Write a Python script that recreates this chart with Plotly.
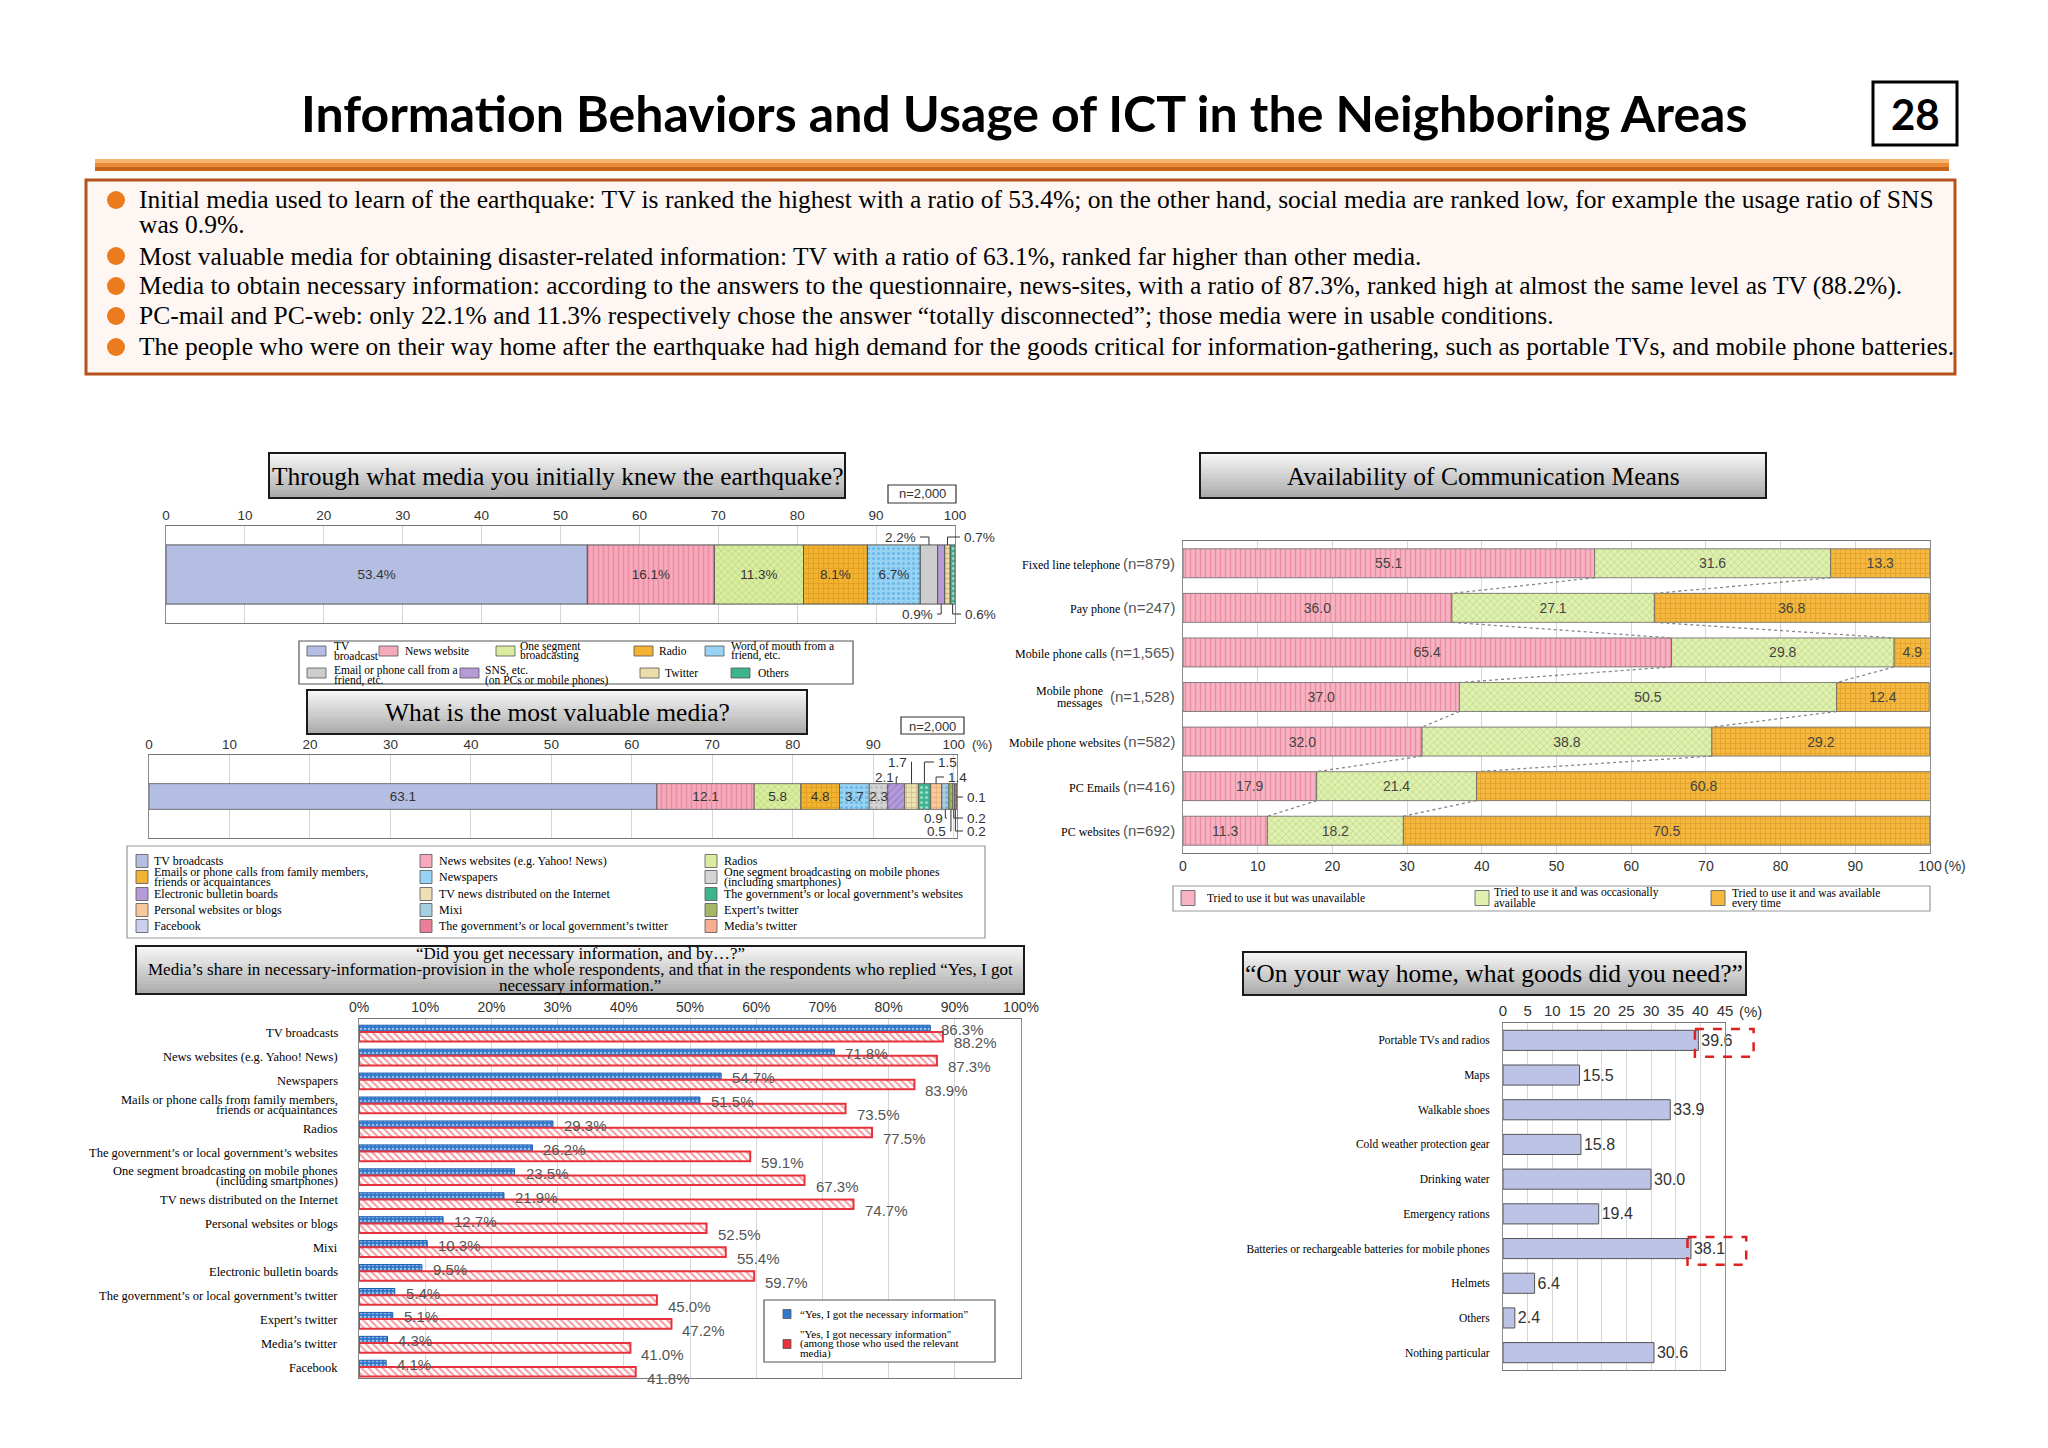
import numpy as np
import plotly.graph_objects as go

W, H = 2048, 1448
SERIF = "Liberation Serif"
SANS = "Liberation Sans"
HEAD = "Lato"

# ---------------- data ----------------
bullets = [
    "Initial media used to learn of the earthquake: TV is ranked the highest with a ratio of 53.4%; on the other hand, social media are ranked low, for example the usage ratio of SNS",
    "was 0.9%.",
    "Most valuable media for obtaining disaster-related information: TV with a ratio of 63.1%, ranked far higher than other media.",
    "Media to obtain necessary information: according to the answers to the questionnaire, news-sites, with a ratio of 87.3%, ranked high at almost the same level as TV (88.2%).",
    "PC-mail and PC-web: only 22.1% and 11.3% respectively chose the answer “totally disconnected”; those media were in usable conditions.",
    "The people who were on their way home after the earthquake had high demand for the goods critical for information-gathering, such as portable TVs, and mobile phone batteries.",
]

# Chart 1: initial media
c1_categories = ["TV\nbroadcast", "News website", "One segment\nbroadcasting", "Radio",
                 "Word of mouth from a\nfriend, etc.", "Email or phone call from a\nfriend, etc.",
                 "SNS, etc.\n(on PCs or mobile phones)", "Twitter", "Others"]
c1_values = [53.4, 16.1, 11.3, 8.1, 6.7, 2.2, 0.9, 0.7, 0.6]

# Chart 2: most valuable media
c2_categories = ["TV broadcasts", "News websites (e.g. Yahoo! News)", "Radios",
                 "Emails or phone calls from family members,\nfriends or acquaintances", "Newspapers",
                 "One segment broadcasting on mobile phones\n(including smartphones)",
                 "Electronic bulletin boards", "TV news distributed on the Internet",
                 "The government’s or local government’s websites", "Personal websites or blogs",
                 "Mixi", "Expert’s twitter", "Facebook",
                 "The government’s or local government’s twitter", "Media’s twitter"]
c2_values = [63.1, 12.1, 5.8, 4.8, 3.7, 2.3, 2.1, 1.7, 1.5, 1.4, 0.9, 0.5, 0.2, 0.2, 0.1]

# Chart 3: necessary information
c3_categories = ["TV broadcasts", "News websites (e.g. Yahoo! News)", "Newspapers",
                 "Mails or phone calls from family members,\nfriends or acquaintances", "Radios",
                 "The government’s or local government’s websites",
                 "One segment broadcasting on mobile phones\n(including smartphones)",
                 "TV news distributed on the Internet", "Personal websites or blogs", "Mixi",
                 "Electronic bulletin boards", "The government’s or local government’s twitter",
                 "Expert’s twitter", "Media’s twitter", "Facebook"]
c3_all = [86.3, 71.8, 54.7, 51.5, 29.3, 26.2, 23.5, 21.9, 12.7, 10.3, 9.5, 5.4, 5.1, 4.3, 4.1]
c3_users = [88.2, 87.3, 83.9, 73.5, 77.5, 59.1, 67.3, 74.7, 52.5, 55.4, 59.7, 45.0, 47.2, 41.0, 41.8]
c3_series = ["“Yes, I got the necessary information”",
             "\"Yes, I got necessary information\"\n(among those who used the relevant\nmedia)"]

# Chart 4: availability of communication means
c4_means = ["Fixed line telephone", "Pay phone", "Mobile phone calls", "Mobile phone\nmessages",
            "Mobile phone websites", "PC Emails", "PC websites"]
c4_n = ["879", "247", "1,565", "1,528", "582", "416", "692"]
c4_unavailable = [55.1, 36.0, 65.4, 37.0, 32.0, 17.9, 11.3]
c4_occasional = [31.6, 27.1, 29.8, 50.5, 38.8, 21.4, 18.2]
c4_everytime = [13.3, 36.8, 4.9, 12.4, 29.2, 60.8, 70.5]
c4_series = ["Tried to use it but was unavailable", "Tried to use it and was occasionally\navailable",
             "Tried to use it and was available\nevery time"]

# Chart 5: goods needed
c5_goods = ["Portable TVs and radios", "Maps", "Walkable shoes", "Cold weather protection gear",
            "Drinking water", "Emergency rations", "Batteries or rechargeable batteries for mobile phones",
            "Helmets", "Others", "Nothing particular"]
c5_values = [39.6, 15.5, 33.9, 15.8, 30.0, 19.4, 38.1, 6.4, 2.4, 30.6]
c5_highlight = [0, 6]

# ---------------- styles ----------------
c1_styles = [("#b4bde2", "", None), ("#f6a9bb", "|", "#e0708c"), ("#d9eca0", "x", "#a5c45a"),
             ("#f2b232", "+", "#cf8a10"), ("#98d3f3", ".", "#3d9ad8"), ("#cdcdcd", "", None),
             ("#b49bd8", "", None), ("#ecdcaa", "-", "#b8a060"), ("#3cb48e", ".", "#ffffff")]
c2_styles = [("#b4bde2", "", None), ("#f6a9bb", "|", "#e0708c"), ("#d9eca0", "x", "#a5c45a"),
             ("#f2b232", "+", "#cf8a10"), ("#98d3f3", ".", "#3d9ad8"), ("#d4d4d4", ".", "#a8a8a8"),
             ("#b49bd8", "/", "#8a6cc0"), ("#ece0b4", "+", "#b8a060"), ("#3cb48e", ".", "#ffffff"),
             ("#f8c89c", "+", "#e09a58"), ("#a6cde0", ".", "#5a9ab8"), ("#a4b868", "x", "#6e8a30"),
             ("#ccd0ee", "x", "#9098cc"), ("#e8809a", ".", "#ffffff"), ("#f8ad90", "|", "#e08060")]
c4_styles = [("#f7b3c2", "|", "#e06a88"), ("#e0f0b0", "x", "#a0c460"), ("#f5b840", "+", "#d08c10")]

shapes, annotations = [], []


def px(x):
    return x / W


def py(y):
    return 1 - y / H


def text(t, x, y, size, family=SERIF, color="#000", xanchor="center", yanchor="middle", **kw):
    annotations.append(dict(text=t, x=px(x), y=py(y), xref="paper", yref="paper", showarrow=False,
                            font=dict(family=family, size=size, color=color),
                            xanchor=xanchor, yanchor=yanchor, **kw))


def rect(x0, y0, x1, y1, fill="rgba(0,0,0,0)", line="#000", width=1, layer="above", dash="solid"):
    shapes.append(dict(type="rect", xref="paper", yref="paper", x0=px(x0), x1=px(x1),
                       y0=py(y1), y1=py(y0), fillcolor=fill,
                       line=dict(color=line, width=width, dash=dash), layer=layer))


def grad_box(x0, y0, x1, y1, top=(246, 246, 246), bot=(172, 172, 172), n=14):
    for k in range(n):
        t = k / (n - 1)
        c = tuple(int(top[j] + (bot[j] - top[j]) * t) for j in range(3))
        ya = y0 + (y1 - y0) * k / n
        yb = y0 + (y1 - y0) * (k + 1) / n + 0.5
        rect(x0, ya, x1, yb, fill="rgb(%d,%d,%d)" % c, width=0)
    rect(x0, y0, x1, y1, line="#1a1a1a", width=2)


def pattern(style):
    bg, shp, fg = style
    if not shp:
        return dict(shape="")
    return dict(shape=shp, fgcolor=fg, bgcolor=bg, size=5, solidity=0.3, fillmode="overlay")


# ---------------- header ----------------
text("<b>Information Behaviors and Usage of ICT in the Neighboring Areas</b>", 1024, 113, 50, family=HEAD)
rect(1873, 82, 1957, 145, fill="#ffffff", line="#000", width=3)
text("<b>28</b>", 1915, 114, 42, family=HEAD)
rect(95, 159, 1949, 163, fill="#f7b571", width=0)
rect(95, 163, 1949, 167, fill="#e98a36", width=0)
rect(95, 167, 1949, 171, fill="#c8631c", width=0)

rect(86, 180, 1955, 374, fill="#fdf6f2", line="#b5521c", width=3, layer="below")
line_y = [200, 224, 256, 286, 316, 347]
for k, (t, y) in enumerate(zip(bullets, line_y)):
    if k != 1:
        shapes.append(dict(type="circle", xref="paper", yref="paper", x0=px(107), x1=px(125),
                           y0=py(y + 9), y1=py(y - 9), fillcolor="#ec7b1e", line=dict(width=0)))
    text(t, 137, y, 25.5, xanchor="left")

# ---------------- figure ----------------
fig = go.Figure()

G1 = (166, 955, 526, 623)      # x0, x1, ytop, ybottom  (chart 1 plot area, px)
G2 = (149, 957, 755, 838)
G3 = (359, 1021, 1019, 1378)
G4 = (1183, 1930, 541, 853)
G5 = (1503, 1725, 1023, 1370)
BW1, BW2 = 0.61, 0.31


def dom_x(g):
    return [px(g[0]), px(g[1])]


def dom_y(g):
    return [py(g[3]), py(g[2])]


grid = "#d6d6d6"
frame = "#8c8c8c"


def xax(g, anchor, rng, tickvals, ticktext, side, size):
    return dict(domain=dom_x(g), anchor=anchor, range=rng, side=side, tickvals=tickvals, ticktext=ticktext,
                showgrid=True, gridcolor=grid, gridwidth=1, zeroline=False, showline=True, mirror=True,
                linecolor="#777", linewidth=1, ticks="", fixedrange=True, automargin=False,
                tickfont=dict(family=SANS, size=size, color="#333"))


def yax(g, anchor, rng, **kw):
    d = dict(domain=dom_y(g), anchor=anchor, range=rng, showgrid=False, zeroline=False, showline=True,
             mirror=True, linecolor=frame, linewidth=1, ticks="", showticklabels=False, fixedrange=True,
             automargin=False)
    d.update(kw)
    return d


# ----- chart 1 -----
c1_ends = np.cumsum(c1_values)
c1_starts = c1_ends - np.array(c1_values)
for k, v in enumerate(c1_values):
    fig.add_trace(go.Bar(x=[v], y=[0], base=[c1_starts[k]], orientation="h", width=BW1,
                         xaxis="x", yaxis="y",
                         marker=dict(color=c1_styles[k][0], pattern=pattern(c1_styles[k]),
                                     line=dict(color="#555", width=1)),
                         text=[f"{v}%"] if v >= 5 else None, textposition="inside",
                         insidetextanchor="middle", textangle=0, constraintext="none",
                         textfont=dict(family=SANS, size=13.5, color="#333"), hoverinfo="skip"))

# ----- chart 2 -----
c2_ends = np.cumsum(c2_values)
c2_starts = c2_ends - np.array(c2_values)
c2_hi = max(100.0, float(c2_ends[-1]))
for k, v in enumerate(c2_values):
    fig.add_trace(go.Bar(x=[v], y=[0], base=[c2_starts[k]], orientation="h", width=BW2,
                         xaxis="x2", yaxis="y2",
                         marker=dict(color=c2_styles[k][0], pattern=pattern(c2_styles[k]),
                                     line=dict(color="#555", width=0.8)),
                         text=[f"{v}"] if v >= 2.3 else None, textposition="inside",
                         insidetextanchor="middle", textangle=0, constraintext="none",
                         textfont=dict(family=SANS, size=13.5, color="#333"), hoverinfo="skip"))

# ----- chart 3 -----
c3_pos = list(range(len(c3_categories)))
fig.add_trace(go.Bar(x=c3_all, y=c3_pos, orientation="h", width=0.28, offset=-0.24,
                     xaxis="x3", yaxis="y3",
                     marker=dict(color="#2f78cc",
                                 pattern=dict(shape=".", fgcolor="#ffffff", bgcolor="#2f78cc", size=4,
                                              solidity=0.35, fillmode="overlay"),
                                 line=dict(color="#1a5cb0", width=1)), hoverinfo="skip"))
fig.add_trace(go.Bar(x=c3_users, y=c3_pos, orientation="h", width=0.40, offset=0.04,
                     xaxis="x3", yaxis="y3",
                     marker=dict(color="#ffffff",
                                 pattern=dict(shape="\\", fgcolor="#e6323c", bgcolor="#ffffff", size=5,
                                              solidity=0.4, fillmode="overlay"),
                                 line=dict(color="#e6323c", width=2)), hoverinfo="skip"))
for i, (a, u) in enumerate(zip(c3_all, c3_users)):
    annotations.append(dict(text=f"{a:.1f}%", x=a, y=i - 0.05, xref="x3", yref="y3", showarrow=False,
                            xanchor="left", yanchor="middle", xshift=9,
                            font=dict(family=SANS, size=15, color="#555")))
    annotations.append(dict(text=f"{u:.1f}%", x=u, y=i + 0.5, xref="x3", yref="y3", showarrow=False,
                            xanchor="left", yanchor="middle", xshift=9,
                            font=dict(family=SANS, size=15, color="#555")))
for i, name in enumerate(c3_categories):
    lines = name.split("\n")
    for j, ln in enumerate(lines):
        ys = 0 if len(lines) == 1 else (5 - 10 * j)
        annotations.append(dict(text=ln, x=px(340), y=i + 0.08, xref="paper", yref="y3", showarrow=False,
                                xanchor="right", yanchor="middle", yshift=ys,
                                font=dict(family=SERIF, size=12.5, color="#000")))

# ----- chart 4 -----
c4_pos = list(range(len(c4_means)))
c4_stack = [c4_unavailable, c4_occasional, c4_everytime]
c4_base = np.zeros(len(c4_means))
c4_bounds = []
for s, vals in enumerate(c4_stack):
    fig.add_trace(go.Bar(x=vals, y=c4_pos, base=list(c4_base), orientation="h", width=0.65,
                         xaxis="x4", yaxis="y4",
                         marker=dict(color=c4_styles[s][0], pattern=pattern(c4_styles[s]),
                                     line=dict(color="#666", width=0.8)),
                         text=[f"{v:.1f}" for v in vals], textposition="inside", insidetextanchor="middle",
                         textangle=0, constraintext="none",
                         textfont=dict(family=SANS, size=14, color="#444"), hoverinfo="skip"))
    c4_base = c4_base + np.array(vals)
    c4_bounds.append(c4_base.copy())
for b in c4_bounds[:2]:
    for i in range(len(c4_means) - 1):
        shapes.append(dict(type="line", xref="x4", yref="y4", x0=b[i], y0=i + 0.325, x1=b[i + 1],
                           y1=i + 1 - 0.325, line=dict(color="#888", width=1.3, dash="dot")))
for i, (name, n) in enumerate(zip(c4_means, c4_n)):
    lines = name.split("\n")
    span = f"<span style='font-family:{SANS};font-size:15px;color:#555'>(n={n})</span>"
    if len(lines) == 1:
        annotations.append(dict(text=f"{name} {span}", x=px(1177), y=i, xref="paper", yref="y4",
                                showarrow=False, xanchor="right", yanchor="middle",
                                font=dict(family=SERIF, size=12, color="#000")))
    else:
        annotations.append(dict(text=span, x=px(1177), y=i, xref="paper", yref="y4", showarrow=False,
                                xanchor="right", yanchor="middle", font=dict(family=SANS, size=15)))
        for j, ln in enumerate(lines):
            annotations.append(dict(text=ln, x=px(1105), y=i, xref="paper", yref="y4", showarrow=False,
                                    xanchor="right", yanchor="middle", yshift=6 - 12 * j,
                                    font=dict(family=SERIF, size=12, color="#000")))

# ----- chart 5 -----
c5_pos = list(range(len(c5_goods)))
fig.add_trace(go.Bar(x=c5_values, y=c5_pos, orientation="h", width=0.58, xaxis="x5", yaxis="y5",
                     marker=dict(color="#bcc3e6", line=dict(color="#555", width=1)),
                     text=[f"{v:.1f}" for v in c5_values], textposition="outside", cliponaxis=False,
                     constraintext="none", textfont=dict(family=SANS, size=16, color="#333"),
                     hoverinfo="skip"))
for i in c5_highlight:
    v = c5_values[i]
    shapes.append(dict(type="rect", xref="x5 domain", yref="y5", x0=(v - 0.7) / 45, x1=(v + 11.2) / 45,
                       y0=i - 0.33, y1=i + 0.47, line=dict(color="#e02020", width=2.5, dash="dash"),
                       fillcolor="rgba(0,0,0,0)"))


# ---------------- callouts (charts 1 & 2) ----------------
def callouts(specs, starts, ends, g, hi, bw, size):
    x0, x1, yt, yb = g
    cy = (yt + yb) / 2
    half = bw * (yb - yt) / 2
    for idx, t, side, tx, ty, anchor in specs:
        v = (starts[idx] + ends[idx]) / 2
        vx = x0 + v / hi * (x1 - x0)
        ey = cy - half if side == "top" else (cy + half if side == "bottom" else ty)
        ex = tx - 2 if anchor == "left" else tx + 2
        shapes.append(dict(type="path", xref="paper", yref="paper",
                           path=f"M{px(vx)},{py(ey)} L{px(vx)},{py(ty)} L{px(ex)},{py(ty)}",
                           line=dict(color="#333", width=1)))
        text(t, tx, ty, size, family=SANS, color="#333", xanchor=anchor)


callouts([(5, "2.2%", "top", 918, 537, "right"), (7, "0.7%", "top", 962, 537, "left"),
          (6, "0.9%", "bottom", 935, 614, "right"), (8, "0.6%", "bottom", 963, 614, "left")],
         c1_starts, c1_ends, G1, 100.0, BW1, 13.5)
callouts([(6, "2.1", "top", 896, 777, "right"), (7, "1.7", "top", 909, 762, "right"),
          (8, "1.5", "top", 936, 762, "left"), (9, "1.4", "top", 946, 777, "left"),
          (10, "0.9", "bottom", 945, 818, "right"), (11, "0.5", "bottom", 948, 831, "right"),
          (14, "0.1", "mid", 965, 797, "left"), (12, "0.2", "bottom", 965, 818, "left"),
          (13, "0.2", "bottom", 965, 831, "left")],
         c2_starts, c2_ends, G2, c2_hi, BW2, 13.5)

# ---------------- titles & boxes ----------------
grad_box(269, 453, 845, 498)
text("Through what media you initially knew the earthquake?", 557, 476, 25.5)
rect(888, 485, 956, 503, fill="#fff", line="#333", width=1.2)
text("n=2,000", 922, 494, 13, family=SANS, color="#333")

grad_box(307, 690, 807, 734)
text("What is the most valuable media?", 557, 712, 25.5)
rect(901, 717, 964, 734, fill="#fff", line="#333", width=1.2)
text("n=2,000", 932, 726, 13, family=SANS, color="#333")
text("(%)", 982, 744, 13, family=SANS, color="#333")

grad_box(136, 946, 1024, 994)
for t, y in zip(["“Did you get necessary information, and by…?”",
                 "Media’s share in necessary-information-provision in the whole respondents, and that in the respondents who replied “Yes, I got",
                 "necessary information.”"], [953, 969, 985]):
    text(t, 580, y, 17)

grad_box(1200, 453, 1766, 498)
text("Availability of Communication Means", 1483, 476, 25.5)
text("(%)", 1955, 866, 14, family=SANS, color="#333")

grad_box(1243, 952, 1746, 995)
text("“On your way home, what goods did you need?”", 1494, 973, 25.5)
text("(%)", 1750, 1011, 15, family=SANS, color="#333")


# ---------------- legends ----------------
def swatch(x, yc, w, h, color):
    rect(x, yc - h / 2, x + w, yc + h / 2, fill=color, line="#555", width=0.8)


def entry(sx, sy, sw, sh, color, tx, label, size, spacing, shift):
    swatch(sx, sy, sw, sh, color)
    lines = label.split("\n")
    y0 = sy if len(lines) == 1 else sy - shift
    for j, ln in enumerate(lines):
        text(ln, tx, y0 + j * spacing, size, xanchor="left")


# chart 1 legend
rect(299, 641, 853, 684, fill="#fff", line="#555", width=1.2)
c1_leg = [(307, 332, 651, 5), (379, 403, 651, 5), (496, 518, 651, 5), (634, 657, 651, 5),
          (705, 729, 651, 5), (307, 332, 673, 3), (460, 483, 673, 3), (640, 663, 673, 3),
          (731, 756, 673, 3)]
for k, (sx, tx, sy, sh) in enumerate(c1_leg):
    entry(sx, sy, 19, 10, c1_styles[k][0], tx, c1_categories[k], 11.5, 10, sh)

# chart 2 legend
rect(127, 846, 985, 938, fill="#fff", line="#999", width=1.2)
c2_cols = [(136, 152), (420, 437), (705, 722)]
c2_rows = [861, 877, 894, 910, 926]
for k in range(len(c2_categories)):
    sx, tx = c2_cols[k % 3]
    sy = c2_rows[k // 3]
    entry(sx, sy, 12, 13, c2_styles[k][0], tx, c2_categories[k], 12, 10, 5)

# chart 3 legend
rect(764, 1300, 995, 1362, fill="#fff", line="#555", width=1.2)
entry(783, 1314, 8, 9, "#2f78cc", 798, c3_series[0], 11, 9.5, 0)
entry(783, 1344, 8, 9, "#e6323c", 798, c3_series[1], 11, 9.5, 10)

# chart 4 legend
rect(1173, 886, 1930, 911, fill="#fff", line="#999", width=1.2)
for k, (sx, tx) in enumerate([(1181, 1205), (1475, 1492), (1711, 1730)]):
    entry(sx, 898, 14, 15, c4_styles[k][0], tx, c4_series[k], 11.5, 10.5, 5.5)

# ---------------- layout ----------------
tick10 = list(range(0, 101, 10))
fig.update_layout(
    width=W, height=H, margin=dict(l=0, r=0, t=0, b=0, pad=0, autoexpand=False), showlegend=False,
    paper_bgcolor="#ffffff", plot_bgcolor="rgba(0,0,0,0)", barmode="overlay",
    xaxis=xax(G1, "y", [0, 100], tick10, [str(v) for v in tick10], "top", 13.5),
    yaxis=yax(G1, "x", [-0.5, 0.5]),
    xaxis2=xax(G2, "y2", [0, c2_hi], tick10, [str(v) for v in tick10], "top", 13.5),
    yaxis2=yax(G2, "x2", [-0.5, 0.5]),
    xaxis3=xax(G3, "y3", [0, 100], tick10, [f"{v}%" for v in tick10], "top", 14),
    yaxis3=yax(G3, "x3", [len(c3_categories) - 0.5, -0.5]),
    xaxis4=xax(G4, "y4", [0, 100], tick10, [str(v) for v in tick10], "bottom", 14),
    yaxis4=yax(G4, "x4", [len(c4_means) - 0.5, -0.5]),
    xaxis5=xax(G5, "y5", [0, 45], list(range(0, 46, 5)), [str(v) for v in range(0, 46, 5)], "top", 15),
    yaxis5=yax(G5, "x5", [len(c5_goods) - 0.5, -0.5], showticklabels=True, tickvals=c5_pos,
               ticktext=c5_goods, ticklabelstandoff=10,
               tickfont=dict(family=SERIF, size=11.5, color="#000")),
    shapes=shapes, annotations=annotations,
)
fig.write_html("out.html", config={"displayModeBar": False},
               post_script="document.body.style.margin='0px';document.body.style.overflow='hidden';")
